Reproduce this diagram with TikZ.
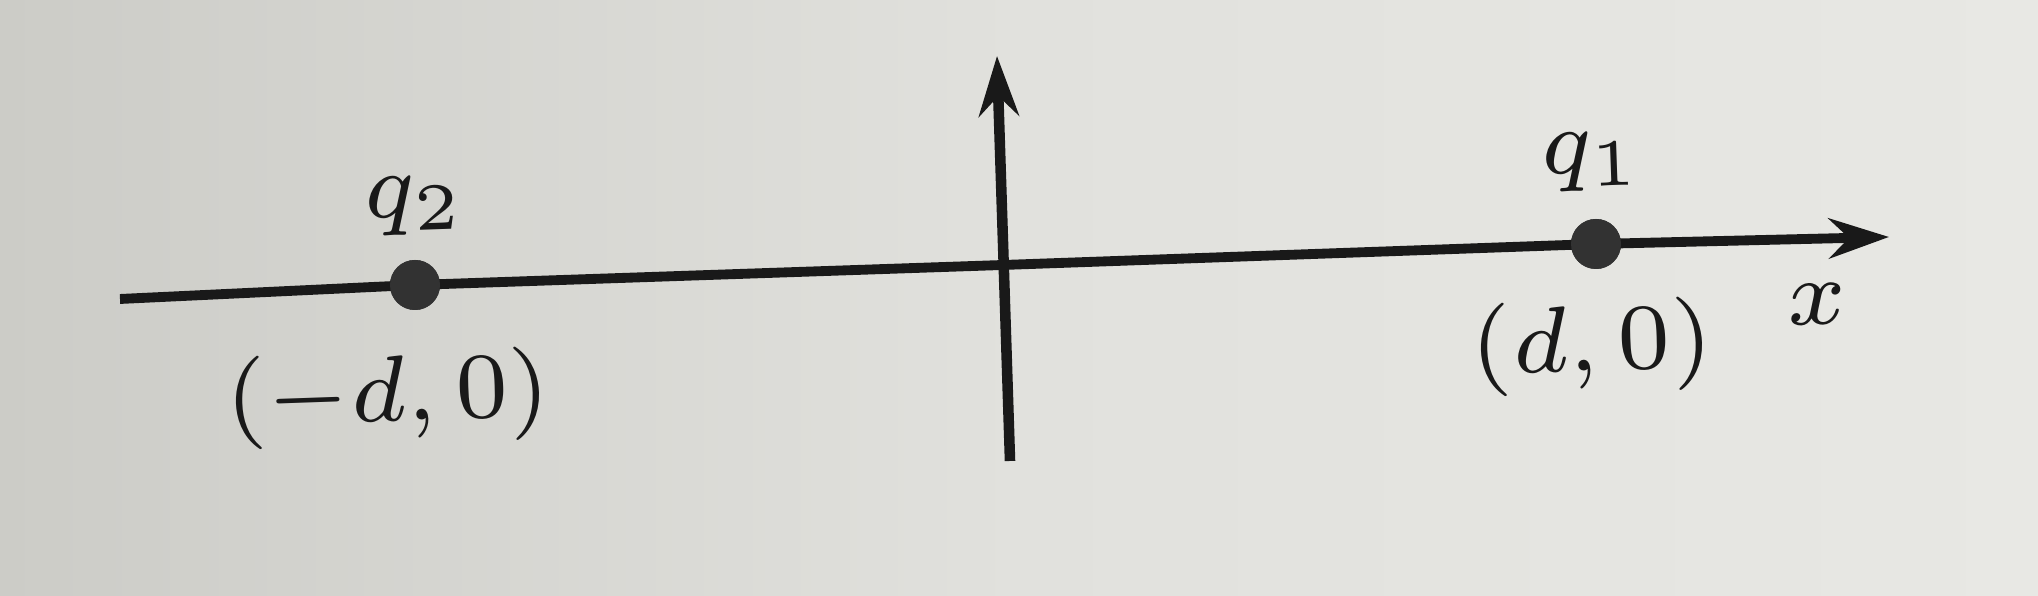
\documentclass[tikz,border=0pt]{standalone}
\usetikzlibrary{arrows.meta}
\definecolor{bgL}{RGB}{204,204,199}
\definecolor{bgM}{RGB}{225,225,221}
\definecolor{bgR}{RGB}{232,232,228}
\definecolor{ink}{RGB}{25,25,25}
\definecolor{dotc}{RGB}{50,50,50}
\tikzset{
  axisline/.style={draw=ink, line width=2.8pt},
  axisarrow/.style={axisline, -{Stealth[length=0.6cm, width=0.4cm, inset=0.2cm]}},
  charge/.style={circle, fill=dotc, minimum size=0.5cm, inner sep=0pt},
  lab/.style={inner sep=0pt, text=ink, rotate=2, scale=3.8, transform shape, font=\scriptsize}
}
\begin{document}
\begin{tikzpicture}
  \shade[left color=bgL, right color=bgR, middle color=bgM, shading angle=90] (0,0) rectangle (20.38,5.96);
  \useasboundingbox (0,0) rectangle (20.38,5.96);
  % coordinates
  \coordinate (L) at (1.20,2.97);
  \coordinate (O) at (10.03,3.31);
  \coordinate (xtip) at (18.89,3.59);
  \coordinate (vbot) at (10.10,1.35);
  \coordinate (vtop) at (9.97,5.40);
  \node[charge] (q2) at (4.15,3.11) {};
  \node[charge] (q1) at (15.96,3.52) {};
  % axes
  \draw[axisline] (L) -- (q2.center) -- (O) -- (q1.center);
  \draw[axisarrow] (q1.center) -- (xtip);
  \draw[axisarrow, line width=3pt] (vbot) -- (vtop);
  \node[charge] at (q2.center) {};
  \node[charge] at (q1.center) {};
  % labels
  \node[lab] (q2lab) at (4.15,3.90) {$q_2$};
  \node[lab] (q2pos) at (3.88,1.98) {$(-d,0)$};
  \node[lab] (q1lab) at (15.92,4.34) {$q_1$};
  \node[lab] (q1pos) at (15.92,2.49) {$(d,0)$};
  \node[lab] (xlab) at (18.17,2.92) {$x$};
\end{tikzpicture}
\end{document}
